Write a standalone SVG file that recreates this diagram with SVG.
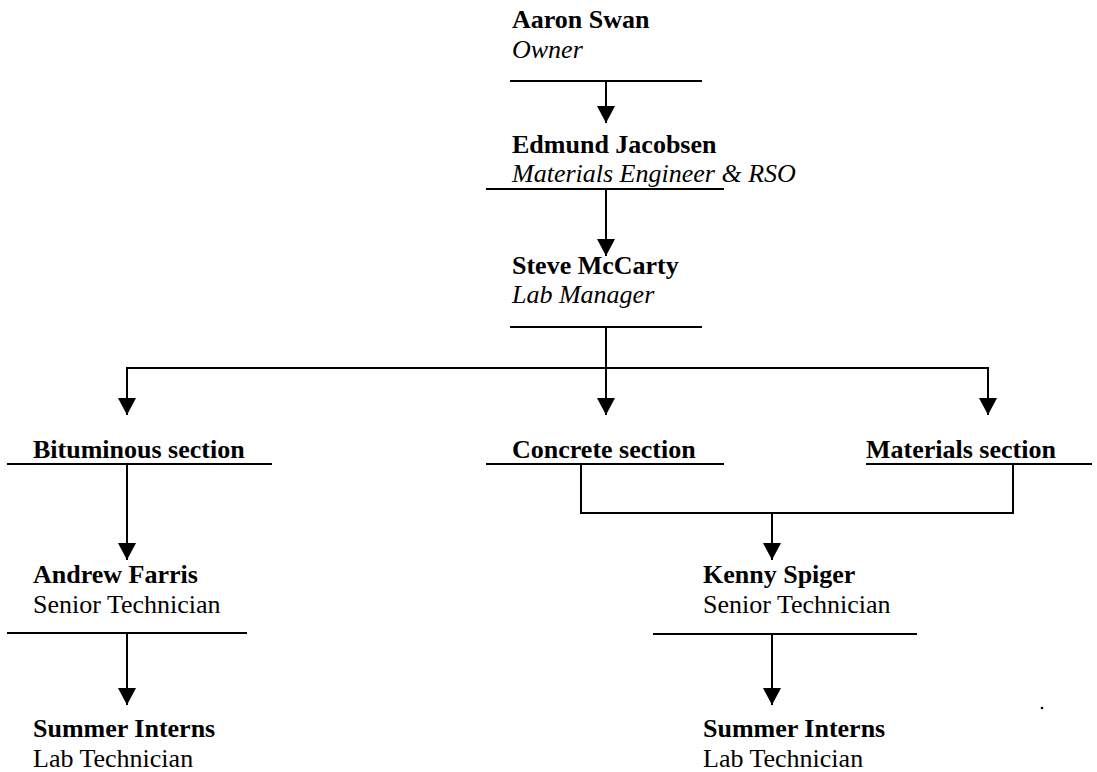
<svg xmlns="http://www.w3.org/2000/svg" width="1097" height="772" viewBox="0 0 1097 772">
<style>
text{font-family:"Liberation Serif","Times New Roman",serif;font-size:26px;fill:#000}
.b{font-weight:bold}
.i{font-style:italic}
.ul{stroke:#000;stroke-width:2;fill:none}
.c{stroke:#000;stroke-width:2;fill:none}
</style>
<defs>
<marker id="ah" markerUnits="userSpaceOnUse" markerWidth="18" markerHeight="18" viewBox="0 0 18 18" refX="17" refY="9" orient="auto">
<path d="M0,0 L17,9 L0,18 z" fill="#000"/>
</marker>
</defs>
<rect width="1097" height="772" fill="#fff"/>
<g id="aaron">
<text class="b" x="512" y="28">Aaron Swan</text>
<text class="i" x="512" y="58">Owner</text>
<line class="ul" x1="510" y1="81" x2="702" y2="81"/>
</g>
<g id="edmund">
<text class="b" x="512" y="153">Edmund Jacobsen</text>
<text class="i" x="512" y="182">Materials Engineer &amp; RSO</text>
<line class="ul" x1="486" y1="189" x2="724" y2="189"/>
</g>
<g id="steve">
<text class="b" x="512" y="274">Steve McCarty</text>
<text class="i" x="512" y="303">Lab Manager</text>
<line class="ul" x1="510" y1="327" x2="702" y2="327"/>
</g>
<g id="bituminous">
<text class="b" x="33" y="458">Bituminous section</text>
<line class="ul" x1="7" y1="464" x2="272" y2="464"/>
</g>
<g id="concrete">
<text class="b" x="512" y="458">Concrete section</text>
<line class="ul" x1="486" y1="464" x2="724" y2="464"/>
</g>
<g id="materials">
<text class="b" x="866" y="458">Materials section</text>
<line class="ul" x1="866" y1="464" x2="1092" y2="464"/>
</g>
<g id="andrew">
<text class="b" x="33" y="583">Andrew Farris</text>
<text x="33" y="613">Senior Technician</text>
<line class="ul" x1="7" y1="633" x2="247" y2="633"/>
</g>
<g id="interns-left">
<text class="b" x="33" y="737">Summer Interns</text>
<text x="33" y="767">Lab Technician</text>
</g>
<g id="kenny">
<text class="b" x="703" y="583">Kenny Spiger</text>
<text x="703" y="613">Senior Technician</text>
<line class="ul" x1="653" y1="634" x2="917" y2="634"/>
</g>
<g id="interns-right">
<text class="b" x="703" y="737">Summer Interns</text>
<text x="703" y="767">Lab Technician</text>
</g>
<g id="connectors">
<line class="c" x1="606" y1="81" x2="606" y2="123" marker-end="url(#ah)"/>
<line class="c" x1="606" y1="189" x2="606" y2="256" marker-end="url(#ah)"/>
<line class="c" x1="606" y1="327" x2="606" y2="368"/>
<line class="c" x1="127" y1="368" x2="988" y2="368"/>
<line class="c" x1="127" y1="367" x2="127" y2="415" marker-end="url(#ah)"/>
<line class="c" x1="606" y1="367" x2="606" y2="415" marker-end="url(#ah)"/>
<line class="c" x1="988" y1="367" x2="988" y2="415" marker-end="url(#ah)"/>
<line class="c" x1="127" y1="464" x2="127" y2="560" marker-end="url(#ah)"/>
<polyline class="c" points="581,464 581,513 1013,513 1013,464"/>
<line class="c" x1="772" y1="513" x2="772" y2="560" marker-end="url(#ah)"/>
<line class="c" x1="127" y1="633" x2="127" y2="705" marker-end="url(#ah)"/>
<line class="c" x1="772" y1="634" x2="772" y2="705" marker-end="url(#ah)"/>
</g>
<circle cx="1042" cy="708" r="1.3" fill="#000"/>
</svg>
